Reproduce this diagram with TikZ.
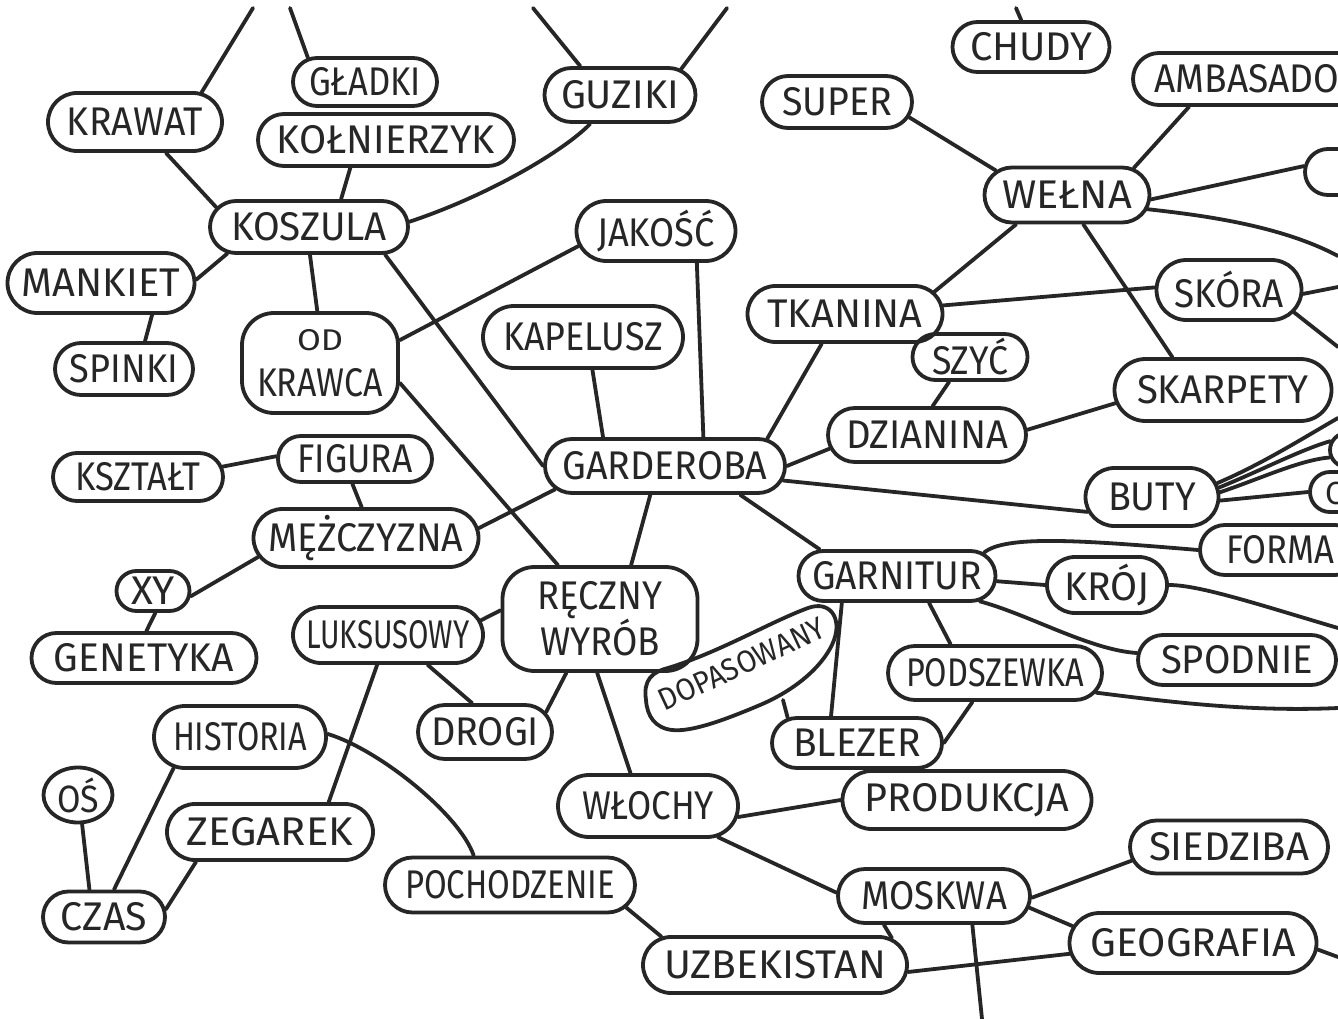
\documentclass[tikz,border=0pt]{standalone}
\usepackage{graphicx}
\usepackage{fontspec}
\setmainfont{Fira Sans}
\usetikzlibrary{shapes.misc,shapes.geometric}
\definecolor{ink}{HTML}{262626}
\newcommand\tw[2]{\resizebox{#1pt}{\height}{#2}}
\begin{document}
\begin{tikzpicture}[x=1pt,y=-1pt,line cap=round,line join=round,
  bub/.style={draw=ink,line width=3.8pt,rounded rectangle,inner sep=0pt,text=ink,font=\fontsize{40}{44}\selectfont},
  blob/.style={draw=ink,line width=3.8pt,rectangle,rounded corners=32pt,inner sep=0pt,align=center,text=ink,font=\fontsize{40}{46}\selectfont},
  oval/.style={draw=ink,line width=3.8pt,ellipse,inner sep=0pt,text=ink,font=\fontsize{38}{40}\selectfont},
  con/.style={draw=ink,line width=3.8pt}]
\fill[white] (0,0) rectangle (1338,1019);
\useasboundingbox (0,0) rectangle (1338,1019);
\clip (0,0) rectangle (1338,1019);

% ---------- nodes ----------
\node[bub,minimum width=174pt,minimum height=58pt] (krawat) at (135,122) {\tw{136}{KRAWAT}};
\node[bub,minimum width=144pt,minimum height=48pt] (gladki) at (365,82) {\tw{112}{GŁADKI}};
\node[bub,minimum width=256pt,minimum height=52pt] (kolnierzyk) at (386,140) {\tw{218}{KOŁNIERZYK}};
\node[bub,minimum width=151pt,minimum height=54pt] (guziki) at (620,95) {\tw{118}{GUZIKI}};
\node[bub,minimum width=198pt,minimum height=52pt] (koszula) at (309,227) {\tw{156}{KOSZULA}};
\node[bub,minimum width=187pt,minimum height=60pt] (mankiet) at (101,283) {\tw{158}{MANKIET}};
\node[bub,minimum width=138pt,minimum height=52pt] (spinki) at (124,369) {\tw{108}{SPINKI}};
\node[blob,minimum width=156pt,minimum height=100pt] (odkrawca) at (320,363) {{\fontsize{30}{32}\selectfont\tw{46}{OD}}\\\tw{126}{KRAWCA}};
\node[bub,minimum width=159pt,minimum height=60pt] (jakosc) at (656,231) {\tw{118}{JAKOŚĆ}};
\node[bub,minimum width=200pt,minimum height=62pt] (kapelusz) at (583,337) {\tw{160}{KAPELUSZ}};
\node[bub,minimum width=240pt,minimum height=54pt] (garderoba) at (665,466) {\tw{205}{GARDEROBA}};
\node[bub,minimum width=195pt,minimum height=56pt] (tkanina) at (845,314) {\tw{155}{TKANINA}};
\node[bub,minimum width=150pt,minimum height=52pt] (super) at (837,102) {\tw{110}{SUPER}};
\node[bub,minimum width=157pt,minimum height=50pt] (chudy) at (1031,47) {\tw{122}{CHUDY}};
\node[bub,minimum width=250pt,minimum height=52pt] (ambasador) at (1258,79) {\tw{207}{AMBASADOR}};
\node[bub,minimum width=165pt,minimum height=55pt] (welna) at (1067,195) {\tw{130}{WEŁNA}};
\node[bub,minimum width=110pt,minimum height=46pt] (p1) at (1360,172) {};
\node[bub,minimum width=145pt,minimum height=60pt] (skora) at (1229,290) {\tw{110}{SKÓRA}};
\node[bub,minimum width=115pt,minimum height=46pt] (szyc) at (970,357) {\tw{76}{SZYĆ}};
\node[bub,minimum width=198pt,minimum height=54pt] (dzianina) at (927,435) {\tw{162}{DZIANINA}};
\node[bub,minimum width=217pt,minimum height=62pt] (skarpety) at (1223,390) {\tw{172}{SKARPETY}};
\node[bub,minimum width=133pt,minimum height=58pt] (buty) at (1152,497) {\tw{88}{BUTY}};
\node[bub,minimum width=84pt,minimum height=34pt] (p2) at (1372,450) {};
\node[bub,minimum width=120pt,minimum height=40pt] (pc) at (1370,492) {};
\node[anchor=west,inner sep=0pt,text=ink,font=\fontsize{32}{34}\selectfont] (ctext) at (1325,493) {C};
\node[bub,minimum width=154pt,minimum height=46pt] (figura) at (355,459) {\tw{115}{FIGURA}};
\node[bub,minimum width=170pt,minimum height=48pt] (ksztalt) at (138,477) {\tw{125}{KSZTAŁT}};
\node[bub,minimum width=225pt,minimum height=58pt] (mezczyzna) at (366,538) {\tw{195}{MĘŻCZYZNA}};
\node[bub,minimum width=73pt,minimum height=40pt] (xy) at (153,591) {\tw{44}{XY}};
\node[bub,minimum width=225pt,minimum height=50pt] (genetyka) at (144,658) {\tw{180}{GENETYKA}};
\node[bub,minimum width=190pt,minimum height=56pt] (luksusowy) at (388,635) {\tw{163}{LUKSUSOWY}};
\node[blob,minimum width=195pt,minimum height=104pt] (reczny) at (600,619) {\tw{125}{RĘCZNY}\\\tw{120}{WYRÓB}};
\node[bub,minimum width=197pt,minimum height=50pt] (garnitur) at (897,576) {\tw{170}{GARNITUR}};
\node[bub,minimum width=120pt,minimum height=56pt] (kroj) at (1107,585) {\tw{85}{KRÓJ}};
\node[bub,minimum width=160pt,minimum height=50pt] (forma) at (1280,550) {\tw{108}{FORMA}};
\node[bub,minimum width=198pt,minimum height=50pt] (spodnie) at (1237,660) {\tw{152}{SPODNIE}};
\node[bub,minimum width=214pt,minimum height=54pt] (podszewka) at (995,673) {\tw{178}{PODSZEWKA}};
% DOPASOWANY: bent outline drawn directly, text rotated
\draw[ink,line width=3.8pt] (646,700) .. controls (643,680) and (652,672) .. (668,668)
  .. controls (720,652) and (770,622) .. (808,608)
  .. controls (830,600) and (842,618) .. (834,640)
  .. controls (826,662) and (800,688) .. (760,705)
  .. controls (720,722) and (690,732) .. (672,730)
  .. controls (655,728) and (647,716) .. (646,700) -- cycle;
\node[rotate=25,inner sep=0pt,text=ink,font=\fontsize{31}{33}\selectfont] (dopasowany) at (742,664) {\tw{180}{DOPASOWANY}};
\coordinate (dopb) at (783,700);
\node[bub,minimum width=134pt,minimum height=54pt] (drogi) at (485,732) {\tw{108}{DROGI}};
\node[bub,minimum width=170pt,minimum height=50pt] (blezer) at (857,743) {\tw{128}{BLEZER}};
\node[bub,minimum width=172pt,minimum height=62pt] (historia) at (240,737) {\tw{134}{HISTORIA}};
\node[oval,minimum width=69pt,minimum height=55pt] (os) at (78,795) {\tw{42}{OŚ}};
\node[bub,minimum width=206pt,minimum height=56pt] (zegarek) at (270,832) {\tw{166}{ZEGAREK}};
\node[bub,minimum width=122pt,minimum height=51pt] (czas) at (104,917) {\tw{86}{CZAS}};
\node[bub,minimum width=250pt,minimum height=55pt] (pochodzenie) at (510,885) {\tw{210}{POCHODZENIE}};
\node[bub,minimum width=180pt,minimum height=62pt] (wlochy) at (648,806) {\tw{132}{WŁOCHY}};
\node[bub,minimum width=249pt,minimum height=58pt] (produkcja) at (967,800) {\tw{205}{PRODUKCJA}};
\node[bub,minimum width=192pt,minimum height=54pt] (moskwa) at (934,896) {\tw{146}{MOSKWA}};
\node[bub,minimum width=198pt,minimum height=53pt] (siedziba) at (1229,847) {\tw{160}{SIEDZIBA}};
\node[bub,minimum width=247pt,minimum height=60pt] (geografia) at (1193,943) {\tw{205}{GEOGRAFIA}};
\node[bub,minimum width=264pt,minimum height=56pt] (uzbekistan) at (775,965) {\tw{222}{UZBEKISTAN}};

% ---------- free ends ----------
\coordinate (t1) at (253,8);
\coordinate (t2) at (290,8);
\coordinate (t3) at (533,8);
\coordinate (t4) at (727,8);
\coordinate (t5) at (1016,8);
\coordinate (r1) at (1338,256);
\coordinate (r2) at (1338,287);
\coordinate (r3) at (1338,347);
\coordinate (r4) at (1338,418);
\coordinate (r5) at (1338,628);
\coordinate (r6) at (1338,708);
\coordinate (r7) at (1338,957);
\coordinate (b1) at (982,1019);

% ---------- connectors ----------
\draw[con] (t1) -- (krawat.24);
\draw[con] (t2) -- (gladki.157);
\draw[con] (t3) -- (guziki.144);
\draw[con] (t4) -- (guziki.23);
\draw[con] (t5) -- (chudy.110);
\draw[con] (krawat.-45) -- (koszula.168);
\draw[con] (kolnierzyk.-142) -- (koszula.41);
\draw[con] (guziki.-136) .. controls (565,150) and (490,195) .. (koszula.3);
\draw[con] (koszula.-162) -- (mankiet.2);
\draw[con] (mankiet.-32) -- (spinki.53);
\draw[con] (koszula.-88) -- (odkrawca.93);
\draw[con] (koszula.-20) -- (garderoba.180);
\draw[con] (odkrawca.16) -- (jakosc.-169);
\draw[con] (odkrawca.-14) -- (reczny.128);
\draw[con] (jakosc.-38) -- (garderoba.37);
\draw[con] (kapelusz.-74) -- (garderoba.155);
\draw[con] (tkanina.-128) -- (garderoba.15);
\draw[con] (tkanina.14) -- (welna.-150);
\draw[con] (tkanina.5) -- (skora.178);
\draw[con] (super.-12) -- (welna.161);
\draw[con] (ambasador.-158) -- (welna.22);
\draw[con] (welna.-3) -- (p1.174);
\draw[con] (welna.-10) .. controls (1200,215) and (1280,225) .. (r1);
\draw[con] (welna.-61) -- (skarpety.147);
\draw[con] (skora.-3) -- (r2);
\draw[con] (skora.-19) -- (r3);
\draw[con] (szyc.-130) -- (dzianina.79);
\draw[con] (garderoba.0) -- (dzianina.-172);
\draw[con] (dzianina.3) -- (skarpety.-173);
\draw[con] (garderoba.-7) -- (buty.-167);
\draw[con] (garderoba.-168) -- (mezczyzna.5);
\draw[con] (garderoba.-117) -- (reczny.60);
\draw[con] (garderoba.-21) -- (garnitur.161);
\draw[con] (buty.12) .. controls (1260,465) and (1300,440) .. (r4);
\draw[con] (buty.8) .. controls (1262,470) and (1300,450) .. (p2.168);
\draw[con] (buty.4) .. controls (1262,478) and (1300,460) .. (p2.-170);
\draw[con] (buty.-3) -- (pc.180);
\draw[con] (ksztalt.7) -- (figura.178);
\draw[con] (figura.-96) -- (mezczyzna.98);
\draw[con] (mezczyzna.-170) -- (xy.-8);
\draw[con] (xy.-84) -- (genetyka.85);
\draw[con] (reczny.175) -- (luksusowy.9);
\draw[con] (luksusowy.-110) -- (zegarek.27);
\draw[con] (luksusowy.-37) -- (drogi.114);
\draw[con] (reczny.-122) -- (drogi.18);
\draw[con] (reczny.-93) -- (wlochy.118);
\draw[con] (historia.-155) -- (czas.70);
\draw[con] (historia.2) .. controls (380,750) and (460,815) .. (pochodzenie.141);
\draw[con] (os.-82) -- (czas.118);
\draw[con] (zegarek.-158) -- (czas.7);
\draw[con] (pochodzenie.-11) -- (uzbekistan.166);
\draw[con] (wlochy.-7) -- (produkcja.180);
\draw[con] (wlochy.-24) -- (moskwa.178);
\draw[con] (moskwa.-150) -- (uzbekistan.13);
\draw[con] (moskwa.-1) -- (siedziba.-172);
\draw[con] (moskwa.-7) -- (geografia.172);
\draw[con] (uzbekistan.-3) -- (geografia.-175);
\draw[con] (geografia.-3) -- (r7);
\draw[con] (moskwa.-37) -- (b1);
\draw[con] (garnitur.-3) -- (kroj.180);
\draw[con] (kroj.0) .. controls (1200,585) and (1260,605) .. (r5);
\draw[con] (garnitur.-17) .. controls (1030,615) and (1090,650) .. (spodnie.176);
\draw[con] (garnitur.-40) -- (podszewka.147);
\draw[con] (garnitur.15) .. controls (1005,535) and (1080,540) .. (forma.180);
\draw[con] (garnitur.-154) -- (blezer.134);
\draw[con] (dopb) -- (blezer.160);
\draw[con] (podszewka.-128) -- (blezer.0);
\draw[con] (podszewka.-11) .. controls (1170,702) and (1250,712) .. (r6);
\end{tikzpicture}
\end{document}
